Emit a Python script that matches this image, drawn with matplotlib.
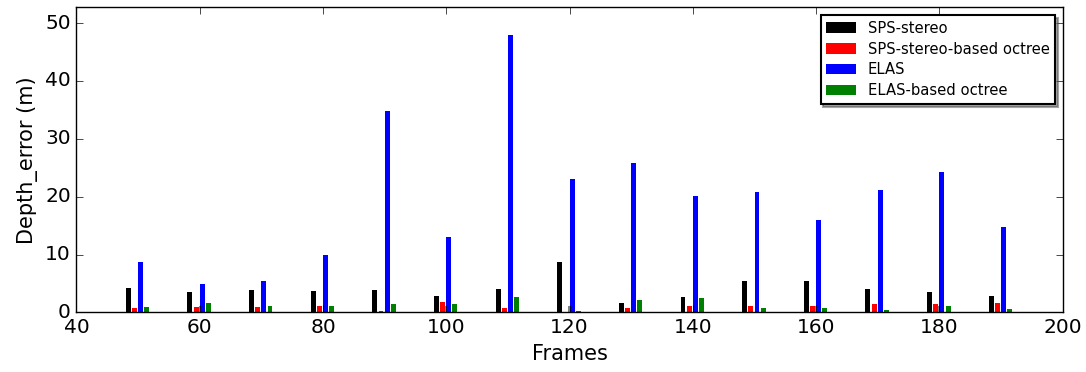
import matplotlib
matplotlib.use("Agg")
import matplotlib.pyplot as plt
import numpy as np

# Frames at which the depth error was measured
frames = [50, 60, 70, 80, 90, 100, 110, 120, 130, 140, 150, 160, 170, 180, 190]

# Depth error (m) per method
sps_stereo = [4.15, 3.46, 3.8, 3.63, 3.8, 2.77, 3.98, 8.65, 1.56, 2.6, 5.5, 5.5, 3.98, 3.46, 2.77]
sps_octree = [0.7, 0.87, 0.87, 1.04, 0.17, 1.73, 0.69, 0.0, 0.69, 1.2, 1.04, 1.2, 1.38, 1.38, 1.56]
elas = [8.8, 5.0, 5.5, 10.0, 34.8, 13.1, 47.9, 23.0, 25.8, 20.2, 20.9, 15.9, 21.1, 24.2, 14.7]
elas_octree = [0.87, 1.56, 1.2, 1.2, 1.38, 1.38, 2.6, 0.17, 2.08, 2.42, 0.69, 0.69, 0.35, 1.04, 0.52]
# unlabelled grey bars, mostly hidden behind the others
hidden = [0.0, 1.1, 0.0, 0.0, 0.0, 1.1, 0.0, 1.1, 0.0, 0.0, 0.0, 1.1, 0.0, 1.1, 0.0]

plt.style.use("classic")
plt.rcParams["font.family"] = "DejaVu Sans"

fig = plt.figure(figsize=(10.86, 3.72), dpi=100)
fig.patch.set_facecolor("white")
ax = fig.add_axes([0.0704, 0.16, 0.9082, 0.82])

x = np.array(frames, dtype=float)
w = 0.8
ax.bar(x - 0.2, hidden, 0.2, align="edge", color="0.5", linewidth=0, zorder=1)
ax.bar(x - 2, sps_stereo, w, align="edge", color="k", linewidth=0,
       label="SPS-stereo", zorder=2)
ax.bar(x - 1, sps_octree, w, align="edge", color="r", linewidth=0,
       label="SPS-stereo-based octree", zorder=2)
ax.bar(x, elas, w, align="edge", color="b", linewidth=0,
       label="ELAS", zorder=2)
ax.bar(x + 1, elas_octree, w, align="edge", color="#008000", linewidth=0,
       label="ELAS-based octree", zorder=2)

ax.set_xlim(40, 200)
ax.set_ylim(0, 52.7)
ax.set_xticks(range(40, 201, 20))
ax.set_yticks(range(0, 51, 10))
ax.tick_params(labelsize=14.5, direction="in", top=True, right=True, length=5)
ax.set_xlabel("Frames", fontsize=15)
ax.set_ylabel("Depth_error (m)", fontsize=15)

leg = ax.legend(loc="upper right", fontsize=10.6, shadow=True, fancybox=False,
                handlelength=2.0, borderaxespad=0.5, labelspacing=0.4)
leg.get_frame().set_linewidth(1.5)

fig.savefig("out.png", dpi=100)
